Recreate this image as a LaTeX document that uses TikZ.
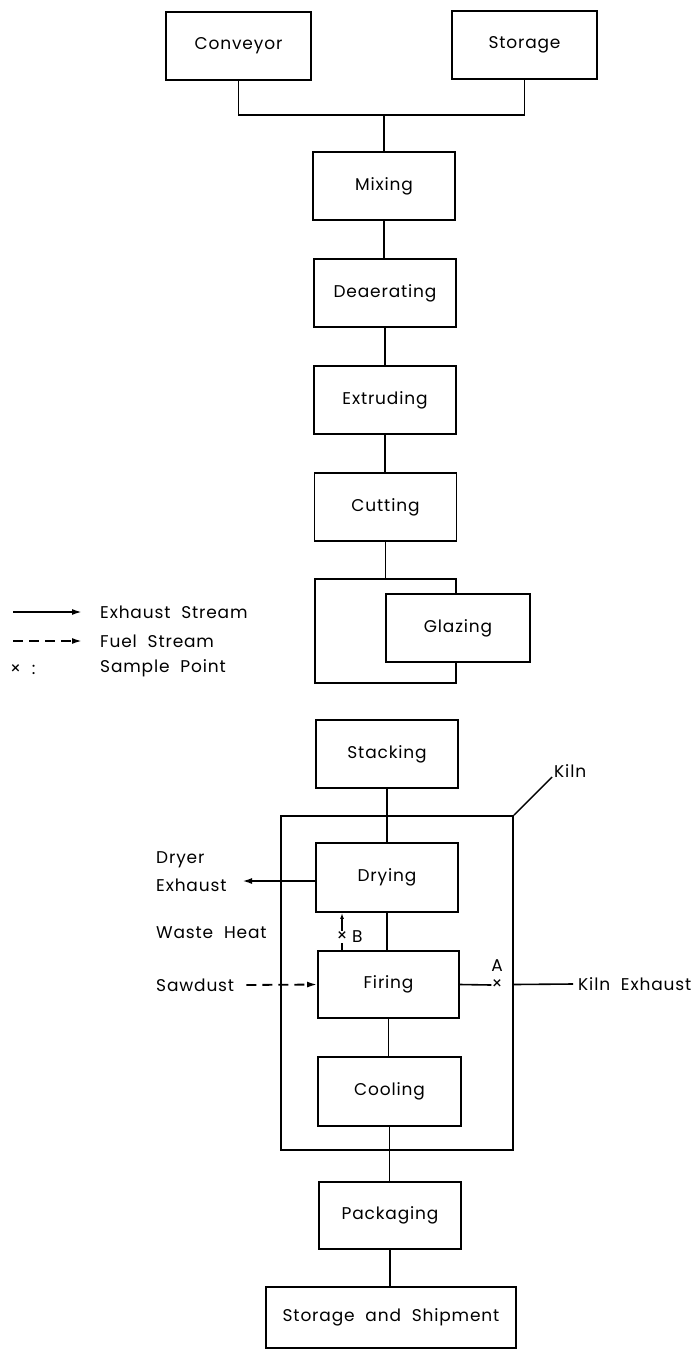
\documentclass[tikz,border=0pt]{standalone}
\usepackage{fontspec}
\setmainfont{Poppins}[LetterSpace=5,WordSpace=2]
\usetikzlibrary{arrows.meta,calc}
\tikzset{
  box/.style={draw, line width=1.8pt, rectangle, fill=white, inner sep=0pt, font=\fontsize{17}{20}\selectfont},
  lbl/.style={inner sep=0pt, font=\fontsize{17}{20}\selectfont},
  link/.style={line width=1.6pt},
  exharrow/.style={line width=1.8pt, -{Latex[length=10pt,width=6pt]}},
  fuelarrow/.style={line width=1.8pt, dashed, dash pattern=on 10pt off 6pt, -{Latex[length=10pt,width=6pt]}},
  smallarrow/.style={line width=1.4pt, -{Latex[length=6pt,width=4pt]}},
}
\begin{document}
\begin{tikzpicture}[x=1pt,y=-1pt]
\useasboundingbox (0,0) rectangle (697,1356);
% top sources
\node[box, minimum width=145pt, minimum height=68pt] (conveyor) at (238.5,46) {Conveyor};
\node[box, minimum width=145pt, minimum height=68pt] (storage) at (524.5,45) {Storage};
\coordinate (join) at (384,115);
% main column
\node[box, minimum width=142pt, minimum height=68pt] (mixing) at (384,186) {Mixing};
\node[box, minimum width=142pt, minimum height=68pt] (deaer) at (385,293) {Deaerating};
\node[box, minimum width=142pt, minimum height=68pt] (extr) at (385,400) {Extruding};
\node[box, minimum width=142pt, minimum height=68pt] (cut) at (385.5,507) {Cutting};
\node[box, fill=none, minimum width=141pt, minimum height=104pt] (glzouter) at (385.5,631) {};
\node[box, minimum width=144pt, minimum height=68pt] (glazing) at (458,628) {Glazing};
\node[box, minimum width=142pt, minimum height=68pt] (stacking) at (387,754) {Stacking};
% kiln
\node[draw, line width=1.8pt, rectangle, inner sep=0pt, minimum width=232pt, minimum height=334pt] (kiln) at (397,983) {};
\node[box, minimum width=142pt, minimum height=69pt] (drying) at (387,877.5) {Drying};
\node[box, minimum width=141pt, minimum height=67pt] (firing) at (388.5,984.5) {Firing};
\node[box, minimum width=143pt, minimum height=69pt] (cooling) at (389.5,1091.5) {Cooling};
\node[box, minimum width=142pt, minimum height=67pt] (packaging) at (390,1215.5) {Packaging};
\node[box, minimum width=250pt, minimum height=61pt] (ship) at (391,1317.5) {Storage and Shipment};
% top join
\draw[link] (conveyor.south) |- (join) -| (storage.south);
\draw[link] (join) -- (join |- mixing.north);
% main links
\draw[link] (mixing.south) -- (mixing.south |- deaer.north);
\draw[link] (deaer.south) -- (deaer.south |- extr.north);
\draw[link] (extr.south) -- (extr.south |- cut.north);
\draw[link] (cut.south) -- (cut.south |- glzouter.north);
\draw[link] ($(glzouter.south)+(1.5,0)$) -- ($(glzouter.south)+(1.5,0)$ |- stacking.north);
\draw[link] (stacking.south) -- (stacking.south |- drying.north);
\draw[link] (drying.south) -- (drying.south |- firing.north);
\draw[link] (firing.south) -- (firing.south |- cooling.north);
\draw[link] (cooling.south) -- (cooling.south |- packaging.north);
\draw[link] (packaging.south) -- (packaging.south |- ship.north);
% kiln label
\coordinate (kilntip) at (552,777);
\draw[line width=1.4pt] (kiln.north east) -- (kilntip);
\node[lbl, anchor=west] (kilnlbl) at (554,771) {Kiln};
% dryer exhaust
\coordinate (dryend) at (242,881);
\draw[exharrow, line width=2.6pt] (drying.west |- dryend) -- (dryend);
\node[lbl, anchor=west, align=left, font=\fontsize{17}{28}\selectfont] (dryerlbl) at (156,872) {Dryer\\Exhaust};
% waste heat
\node[lbl, anchor=west] (waste) at (156,933) {Waste Heat};
% sawdust
\node[lbl, anchor=west] (sawdust) at (156,985) {Sawdust};
\draw[fuelarrow] ($(sawdust.east)+(12,0)$) -- (firing.west);
% sample point B
\draw[smallarrow] (firing.north -| 342,0) -- (drying.south -| 342,0);
\node[lbl, fill=white, inner sep=1pt] (xb) at (342,937) {×};
\node[lbl, anchor=west] (blbl) at (352,937) {B};
% sample point A
\node[lbl] (xa) at (497,985) {×};
\node[lbl] (alabel) at (497,966) {A};
\draw[link] (firing.east) -- (xa.west);
\node[lbl, anchor=west] (kilnex) at (578,984) {Kiln Exhaust};
\draw[link] (kiln.east |- firing.east) -- ($(kilnex.west)+(-5,0)$);
% legend
\coordinate (l1a) at (13,612); \coordinate (l1b) at (82,612);
\coordinate (l2a) at (13,641); \coordinate (l2b) at (82,641);
\draw[exharrow] (l1a) -- (l1b);
\draw[fuelarrow] (l2a) -- (l2b);
\node[lbl, anchor=west] (lg1) at (100,612) {Exhaust Stream};
\node[lbl, anchor=west] (lg2) at (100,641) {Fuel Stream};
\node[lbl, anchor=west] (lg3) at (100,668) {Sample Point};
\node[lbl, anchor=west] (lg3x) at (10,670) {× :};
\end{tikzpicture}
\end{document}
